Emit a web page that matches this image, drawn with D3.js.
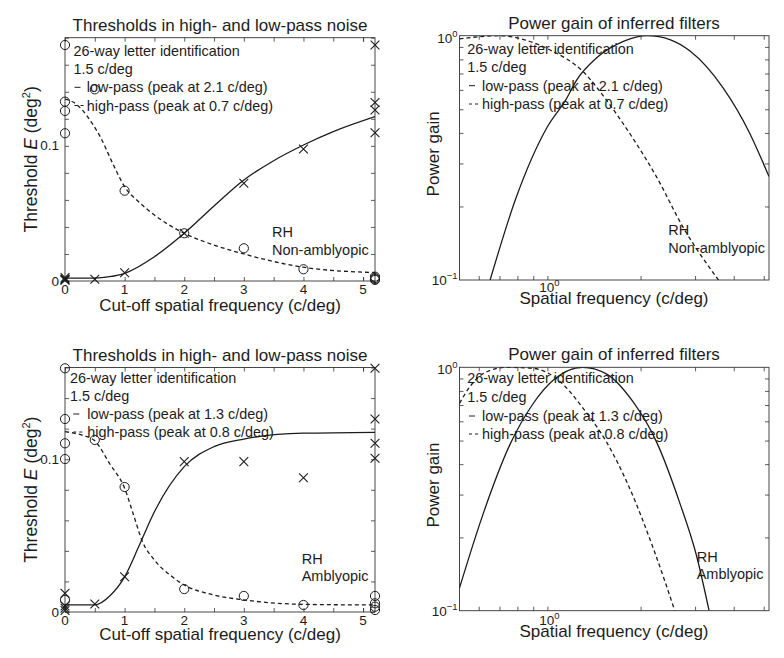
<!DOCTYPE html>
<html>
<head>
<meta charset="utf-8">
<script src="https://cdn.jsdelivr.net/npm/d3@7"></script>
<style>
  body { margin: 0; background: #fff; }
  svg text { font-family: "Liberation Sans", Arial, Helvetica, sans-serif; fill: #1c1c1c; }
</style>
</head>
<body>
<svg width="784" height="658"></svg>
<script>
const width = 784, height = 658;
const svg = d3.select("svg").attr("width", width).attr("height", height);

// ---------- data ----------
// cut-off 5.2 = right edge of the axis (unfiltered condition)

// Non-amblyopic eye, thresholds (top left)
const naHighCut = [0, 0, 0, 0, 0.5, 1, 2, 3, 4, 5.2, 5.2, 5.2, 5.2];
const naHighE   = [0.1746, 0.1327, 0.1258, 0.1093, 0.1418, 0.0668, 0.0353, 0.0242, 0.0087, 0.0032, 0.0022, 0.0014, 0.0008];
const naLowCut  = [0, 0, 0, 0, 0.5, 1, 2, 3, 4, 5.2, 5.2, 5.2, 5.2];
const naLowE    = [0.0025, 0.0015, 0.0010, 0.0005, 0.0013, 0.0061, 0.0353, 0.0723, 0.0977, 0.1746, 0.1320, 0.1265, 0.1097];
const naLowFitCut  = [0, 0.5, 0.75, 1, 1.5, 2, 2.5, 3, 3.5, 4, 4.5, 5.2];
const naLowFitE    = [0.0022, 0.0022, 0.0032, 0.0057, 0.018, 0.0353, 0.0555, 0.0747, 0.089, 0.1006, 0.1105, 0.1216];
const naHighFitCut = [0, 0.15, 0.3, 0.45, 0.6, 0.8, 1, 1.25, 1.5, 2, 2.5, 3, 4, 5.2];
const naHighFitE   = [0.1346, 0.132, 0.126, 0.117, 0.106, 0.087, 0.0698, 0.058, 0.0488, 0.0353, 0.0266, 0.020, 0.0102, 0.0062];

// Amblyopic eye, thresholds (bottom left)
const amHighCut = [0, 0, 0, 0, 0, 0.5, 1, 2, 3, 4, 5.2, 5.2, 5.2, 5.2];
const amHighE   = [0.1595, 0.1263, 0.1104, 0.1001, 0.0079, 0.1126, 0.0818, 0.015, 0.0105, 0.0046, 0.0105, 0.0057, 0.0035, 0.0013];
const amLowCut  = [0, 0, 0, 0, 0.5, 1, 2, 3, 4, 5.2, 5.2, 5.2, 5.2];
const amLowE    = [0.0122, 0.004, 0.0025, 0.001, 0.0052, 0.0231, 0.0984, 0.0984, 0.0879, 0.1595, 0.1263, 0.1104, 0.1006];
const amLowFitCut  = [0, 0.5, 0.75, 1, 1.25, 1.5, 2, 2.5, 3, 4, 5.2];
const amLowFitE    = [0.0046, 0.0046, 0.0105, 0.023, 0.044, 0.0656, 0.0951, 0.1082, 0.1132, 0.117, 0.1176];
const amHighFitCut = [0, 0.3, 0.5, 0.75, 1, 1.15, 1.3, 1.5, 1.8, 2, 2.5, 3, 4, 5.2];
const amHighFitE   = [0.118, 0.1155, 0.112, 0.097, 0.081, 0.0635, 0.046, 0.034, 0.023, 0.0177, 0.0111, 0.0079, 0.005, 0.0046];

// inferred filters, power gain (right column)
const naLowFreq  = [0.653, 0.79, 1.0, 1.15, 1.24, 1.44, 1.76, 2.1, 2.5, 2.89, 3.7, 4.5, 5.2];
const naLowGain  = [0.1, 0.215, 0.424, 0.55, 0.655, 0.81, 0.948, 1.0, 0.962, 0.865, 0.61, 0.40, 0.265];
const naHighFreq = [0.52, 0.6, 0.7, 0.85, 1.02, 1.305, 1.552, 1.845, 2.25, 2.74, 3.57];
const naHighGain = [0.97, 0.99, 1.0, 0.96, 0.874, 0.712, 0.545, 0.398, 0.265, 0.165, 0.1];
const amLowFreq  = [0.52, 0.62, 0.756, 0.9, 1.05, 1.3, 1.55, 1.89, 2.25, 2.67, 3.03, 3.33];
const amLowGain  = [0.124, 0.25, 0.48, 0.71, 0.89, 1.0, 0.94, 0.722, 0.495, 0.28, 0.169, 0.1];
const amHighFreq = [0.52, 0.562, 0.637, 0.737, 0.9, 1.1, 1.305, 1.55, 1.845, 2.2, 2.58];
const amHighGain = [0.711, 0.833, 0.959, 1.0, 0.99, 0.873, 0.678, 0.495, 0.318, 0.18, 0.1];

// tick values
const cutTicks = [0, 1, 2, 3, 4, 5];
const cutMinor = [0.5, 1.5, 2.5, 3.5, 4.5, 5];
const eTicks = [0, 0.1];
const freqMinor = [0.6, 0.7, 0.8, 0.9, 2, 3, 4, 5];
const gainMinor = [0.2, 0.3, 0.4, 0.5, 0.6, 0.7, 0.8, 0.9];

const legendLines = {
  na: ["26-way letter identification", "1.5 c/deg", "low-pass (peak at 2.1 c/deg)", "high-pass (peak at 0.7 c/deg)"],
  am: ["26-way letter identification", "1.5 c/deg", "low-pass (peak at 1.3 c/deg)", "high-pass (peak at 0.8 c/deg)"]
};

const ink = "#1c1c1c";
const zip = (a, b) => a.map((v, i) => [v, b[i]]);

// ---------- helpers ----------
let clipId = 0;
function panelClip(x, y) {
  const id = "clip" + (clipId++);
  svg.append("clipPath").attr("id", id).append("rect")
    .attr("x", x.range()[0]).attr("y", y.range()[1])
    .attr("width", x.range()[1] - x.range()[0]).attr("height", y.range()[0] - y.range()[1]);
  return "url(#" + id + ")";
}

// box with inward ticks on all four sides
function frame(x, y, xTicks, yTicks) {
  const [x0, x1] = x.range(), [y0, y1] = y.range();
  const g = svg.append("g");
  const tick = 4;
  const put = (axis, tx, ty) => g.append("g").attr("transform", `translate(${tx},${ty})`)
    .call(axis.tickSize(-tick).tickFormat(""))
    .call(s => s.select(".domain").remove());
  put(d3.axisBottom(x).tickValues(xTicks), 0, y0);
  put(d3.axisTop(x).tickValues(xTicks), 0, y1);
  put(d3.axisLeft(y).tickValues(yTicks), x0, 0);
  put(d3.axisRight(y).tickValues(yTicks), x1, 0);
  g.selectAll(".tick line").attr("stroke", "#333").attr("stroke-width", 0.8);
  g.append("rect").attr("x", x0).attr("y", y1).attr("width", x1 - x0).attr("height", y0 - y1)
    .attr("fill", "none").attr("stroke", "#333").attr("stroke-width", 0.9);
}

function curve(x, y, pts, dashed, clip) {
  svg.append("path").datum(pts)
    .attr("clip-path", clip)
    .attr("fill", "none").attr("stroke", ink).attr("stroke-width", 1.3)
    .attr("stroke-dasharray", dashed ? "4,3" : null)
    .attr("d", d3.line().x(d => x(d[0])).y(d => y(d[1])).curve(d3.curveMonotoneX));
}

function circles(x, y, pts) {
  svg.append("g").selectAll("circle").data(pts).enter().append("circle")
    .attr("cx", d => x(d[0])).attr("cy", d => y(d[1])).attr("r", 4.6)
    .attr("fill", "none").attr("stroke", ink).attr("stroke-width", 1);
}

function crosses(x, y, pts) {
  const s = 4.4;
  svg.append("g").selectAll("path").data(pts).enter().append("path")
    .attr("transform", d => `translate(${x(d[0])},${y(d[1])})`)
    .attr("d", `M${-s},${-s}L${s},${s}M${-s},${s}L${s},${-s}`)
    .attr("stroke", ink).attr("stroke-width", 1.1);
}

function text(tx, ty, str, size, anchor) {
  return svg.append("text").attr("x", tx).attr("y", ty)
    .attr("font-size", size).attr("text-anchor", anchor || "start").text(str);
}

function pow10Label(tx, ty, exp, anchor) {
  const t = svg.append("text").attr("x", tx).attr("y", ty)
    .attr("font-size", 13.5).attr("text-anchor", anchor);
  t.append("tspan").text("10");
  t.append("tspan").attr("font-size", 9.5).attr("dy", -6).text(exp);
}

function legend(lines, lx, sx, ix, base) {
  text(lx, base[0], lines[0], 14.4);
  text(lx, base[1], lines[1], 14.4);
  svg.append("line").attr("x1", sx).attr("x2", sx + 6).attr("y1", base[2] - 5).attr("y2", base[2] - 5)
    .attr("stroke", ink).attr("stroke-width", 1);
  text(ix, base[2], lines[2], 14.4);
  svg.append("line").attr("x1", sx).attr("x2", sx + 9).attr("y1", base[3] - 5).attr("y2", base[3] - 5)
    .attr("stroke", ink).attr("stroke-width", 1).attr("stroke-dasharray", "3,3");
  text(ix, base[3], lines[3], 14.4);
}

function thresholdLabel(tx, ty) {
  const t = svg.append("text").attr("transform", `translate(${tx},${ty}) rotate(-90)`)
    .attr("font-size", 17.5).attr("text-anchor", "middle");
  t.append("tspan").text("Threshold ");
  t.append("tspan").attr("font-style", "italic").text("E");
  t.append("tspan").text(" (deg");
  t.append("tspan").attr("font-size", 11).attr("dy", -7).text("2");
  t.append("tspan").attr("dy", 7).text(")");
}

// ---------- threshold panels ----------
function thresholdPanel(p) {
  const x = d3.scaleLinear().domain([0, 5.2]).range([65, 375]);
  const y = d3.scaleLinear().domain([0, p.yMax]).range([p.bottom, p.top]);
  const clip = panelClip(x, y);
  frame(x, y, cutTicks.concat(cutMinor), d3.range(0, p.yMax + 1e-9, 0.02));

  curve(x, y, zip(p.lowFitCut, p.lowFitE), false, clip);
  curve(x, y, zip(p.highFitCut, p.highFitE), true, clip);
  circles(x, y, zip(p.highCut, p.highE));
  crosses(x, y, zip(p.lowCut, p.lowE));

  cutTicks.forEach(v => text(x(v), p.bottom + 12.5, String(v), 13.5, "middle"));
  eTicks.forEach(v => text(x.range()[0] - 6, y(v) + 4.5, v === 0 ? "0" : "0.1", 13.5, "end"));

  text(220, p.top - 7, "Thresholds in high- and low-pass noise", 17, "middle");
  text(220, p.bottom + p.xLabelGap, "Cut-off spatial frequency (c/deg)", 17, "middle");
  thresholdLabel(37, (p.top + p.bottom) / 2);
  legend(p.legend, p.lx, p.sx, p.ix, p.base);
  text(p.rhX, p.rhY[0], "RH", 14.5);
  text(p.rhX, p.rhY[1], p.eye, 14.5);
}

// ---------- filter panels ----------
function gainPanel(p) {
  const x = d3.scaleLog().domain([0.52, 5.2]).range([459.5, 769]);
  const y = d3.scaleLog().domain([0.1, 1]).range([p.bottom, p.top]);
  const clip = panelClip(x, y);
  frame(x, y, [1].concat(freqMinor), gainMinor);

  curve(x, y, zip(p.lowFreq, p.lowGain), false, clip);
  curve(x, y, zip(p.highFreq, p.highGain), true, clip);

  pow10Label(x(1) + 2, p.bottom + p.tickGap, "0", "middle");
  pow10Label(x.range()[0] - 2, p.top + 7, "0", "end");
  pow10Label(x.range()[0] - 2, p.bottom + 5, "\u22121", "end");

  text(614, p.top - 7, "Power gain of inferred filters", 17, "middle");
  text(614, p.bottom + p.xLabelGap, "Spatial frequency (c/deg)", 17, "middle");
  svg.append("text").attr("transform", `translate(438.5,${(p.top + p.bottom) / 2 - 4}) rotate(-90)`)
    .attr("font-size", 17).attr("text-anchor", "middle").text("Power gain");
  legend(p.legend, 467.3, 469, 482, p.base);
  text(p.rhX, p.rhY[0], "RH", 14.5);
  text(p.rhX, p.rhY[1], p.eye, 14.5);
}

thresholdPanel({
  top: 37.7, bottom: 281, yMax: 0.18, xLabelGap: 29.5,
  highCut: naHighCut, highE: naHighE, lowCut: naLowCut, lowE: naLowE,
  lowFitCut: naLowFitCut, lowFitE: naLowFitE, highFitCut: naHighFitCut, highFitE: naHighFitE,
  legend: legendLines.na, lx: 73.5, sx: 74.5, ix: 86.7, base: [56, 74, 92.3, 110.5],
  rhX: 272, rhY: [236.5, 255], eye: "Non-amblyopic"
});

thresholdPanel({
  top: 367.5, bottom: 612, yMax: 0.16, xLabelGap: 28,
  highCut: amHighCut, highE: amHighE, lowCut: amLowCut, lowE: amLowE,
  lowFitCut: amLowFitCut, lowFitE: amLowFitE, highFitCut: amHighFitCut, highFitE: amHighFitE,
  legend: legendLines.am, lx: 70, sx: 73.3, ix: 87.3, base: [383, 401, 419, 437],
  rhX: 301.7, rhY: [564, 581], eye: "Amblyopic"
});

gainPanel({
  top: 35.7, bottom: 280, xLabelGap: 24, tickGap: 12,
  lowFreq: naLowFreq, lowGain: naLowGain, highFreq: naHighFreq, highGain: naHighGain,
  legend: legendLines.na, base: [54.3, 72.3, 90.7, 109],
  rhX: 668.3, rhY: [235, 253], eye: "Non-amblyopic"
});

gainPanel({
  top: 367.3, bottom: 610.7, xLabelGap: 26.5, tickGap: 14,
  lowFreq: amLowFreq, lowGain: amLowGain, highFreq: amHighFreq, highGain: amHighGain,
  legend: legendLines.am, base: [383.3, 402, 421, 439],
  rhX: 696.7, rhY: [561.7, 579.3], eye: "Amblyopic"
});
</script>
</body>
</html>
